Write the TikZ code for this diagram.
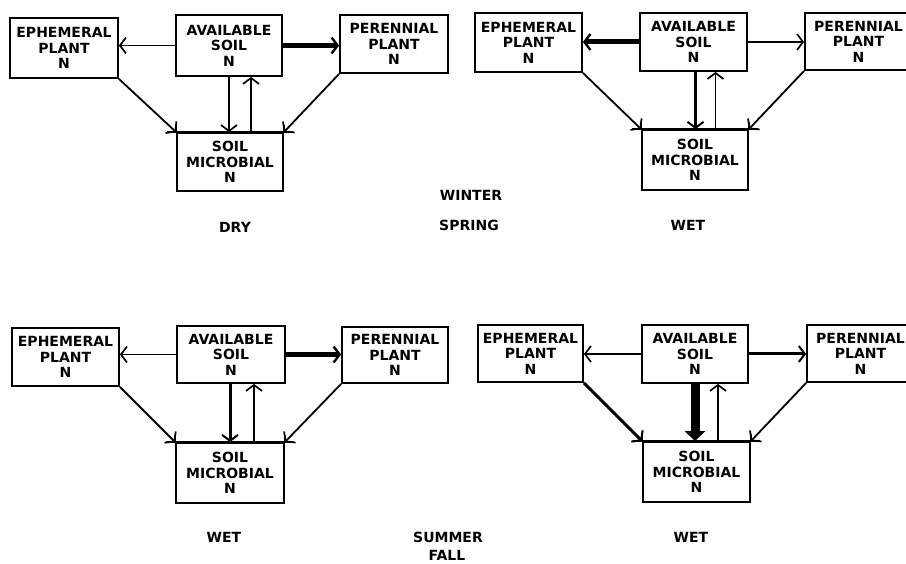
\documentclass[tikz,border=0pt]{standalone}
\usepackage{fontspec}
\setmainfont{DejaVu Sans}
\usetikzlibrary{arrows.meta,calc}
\newcommand\lbl{\fontsize{14}{15.5}\selectfont\bfseries}
\tikzset{
  box/.style={draw, line width=1.8pt, align=center, inner sep=0pt, font=\lbl},
  edge/.style={line width=1.8pt},
  thinar/.style={line width=1.8pt, -{Straight Barb[length=6pt,width=16pt,line width=1.7pt]}},
  medar/.style={line width=3pt, -{Straight Barb[length=6pt,width=16pt,line width=2pt]}},
  thickar/.style={line width=5pt, -{Straight Barb[length=6pt,width=16pt,line width=2.4pt]}},
  fatar/.style={line width=9pt, -{Triangle[length=10pt,width=20pt]}},
  lab/.style={font=\lbl, inner sep=0pt},
}
\begin{document}
\begin{tikzpicture}[x=1pt,y=-1pt]
\clip (0,0) rectangle (906,564);
\fill[white] (0,0) rectangle (906,564);

% ---------- top left (DRY) ----------
\node[box, minimum width=108pt, minimum height=60pt] (E1) at (64,48) {EPHEMERAL\\PLANT\\N};
\node[box, minimum width=106pt, minimum height=61pt] (A1) at (229,45.5) {AVAILABLE\\SOIL\\N};
\node[box, minimum width=108pt, minimum height=58pt] (P1) at (394,44) {PERENNIAL\\PLANT\\N};
\node[box, minimum width=106pt, minimum height=58pt] (M1) at (230,162) {SOIL\\MICROBIAL\\N};
\draw[edge] ([xshift=-9pt]M1.north west) -- ([xshift=9pt]M1.north east);
\draw[edge] (M1.north west) -- ++(0,-7);
\draw[edge] (M1.north east) -- ++(0,-7);
\draw[thinar] (A1.west) -- (A1.west -| E1.east);
\draw[thickar] (A1.east) -- (A1.east -| P1.west);
\draw[thinar] (A1.south) -- (A1.south |- M1.north);
\draw[thinar] ([xshift=22pt]A1.south |- M1.north) -- ([xshift=22pt]A1.south);
\draw[thinar] (E1.south east) -- (M1.north west);
\draw[thinar] (P1.south west) -- (M1.north east);
\node[lab] (dry) at (235,227) {DRY};

% ---------- top right (WET) ----------
\node[box, minimum width=107pt, minimum height=59pt] (E2) at (528.5,42.5) {EPHEMERAL\\PLANT\\N};
\node[box, minimum width=107pt, minimum height=58pt] (A2) at (693.5,42) {AVAILABLE\\SOIL\\N};
\node[box, minimum width=107pt, minimum height=57pt] (P2) at (858.5,41.5) {PERENNIAL\\PLANT\\N};
\node[box, minimum width=106pt, minimum height=60pt] (M2) at (695,160) {SOIL\\MICROBIAL\\N};
\draw[edge] ([xshift=-9pt]M2.north west) -- ([xshift=9pt]M2.north east);
\draw[edge] (M2.north west) -- ++(0,-7);
\draw[edge] (M2.north east) -- ++(0,-7);
\draw[thickar] (A2.west) -- (A2.west -| E2.east);
\draw[thinar] (A2.east) -- (A2.east -| P2.west);
\draw[medar] ([xshift=2pt]A2.south) -- ([xshift=2pt]A2.south |- M2.north);
\draw[thinar] ([xshift=22pt]A2.south |- M2.north) -- ([xshift=22pt]A2.south);
\draw[thinar] (E2.south east) -- (M2.north west);
\draw[thinar] (P2.south west) -- (M2.north east);
\node[lab] (wet1) at (688,225) {WET};

\node[lab] (winter) at (471,195) {WINTER};
\node[lab] (spring) at (469,225) {SPRING};

% ---------- bottom left (WET) ----------
\node[box, minimum width=107pt, minimum height=58pt] (E3) at (65.5,357) {EPHEMERAL\\PLANT\\N};
\node[box, minimum width=108pt, minimum height=57pt] (A3) at (231,354.5) {AVAILABLE\\SOIL\\N};
\node[box, minimum width=106pt, minimum height=56pt] (P3) at (395,355) {PERENNIAL\\PLANT\\N};
\node[box, minimum width=108pt, minimum height=60pt] (M3) at (230,473) {SOIL\\MICROBIAL\\N};
\draw[edge] ([xshift=-9pt]M3.north west) -- ([xshift=9pt]M3.north east);
\draw[edge] (M3.north west) -- ++(0,-7);
\draw[edge] (M3.north east) -- ++(0,-7);
\draw[thinar] (A3.west) -- (A3.west -| E3.east);
\draw[thickar] (A3.east) -- (A3.east -| P3.west);
\draw[medar] ([xshift=-1pt]A3.south) -- ([xshift=-1pt]A3.south |- M3.north);
\draw[thinar] ([xshift=23pt]A3.south |- M3.north) -- ([xshift=23pt]A3.south);
\draw[thinar] (E3.south east) -- (M3.north west);
\draw[thinar] (P3.south west) -- (M3.north east);
\node[lab] (wet2) at (224,537) {WET};

% ---------- bottom right (WET) ----------
\node[box, minimum width=105pt, minimum height=57pt] (E4) at (530.5,353.5) {EPHEMERAL\\PLANT\\N};
\node[box, minimum width=106pt, minimum height=58pt] (A4) at (695,354) {AVAILABLE\\SOIL\\N};
\node[box, minimum width=107pt, minimum height=57pt] (P4) at (860.5,353.5) {PERENNIAL\\PLANT\\N};
\node[box, minimum width=107pt, minimum height=60pt] (M4) at (696.5,472) {SOIL\\MICROBIAL\\N};
\draw[edge] ([xshift=-9pt]M4.north west) -- ([xshift=9pt]M4.north east);
\draw[edge] (M4.north west) -- ++(0,-7);
\draw[edge] (M4.north east) -- ++(0,-7);
\draw[thinar] (A4.west) -- (A4.west -| E4.east);
\draw[medar] (A4.east) -- (A4.east -| P4.west);
\draw[fatar] (A4.south) -- (A4.south |- M4.north);
\draw[thinar] ([xshift=23pt]A4.south |- M4.north) -- ([xshift=23pt]A4.south);
\draw[medar] (E4.south east) -- (M4.north west);
\draw[thinar] (P4.south west) -- (M4.north east);
\node[lab] (wet3) at (691,537) {WET};

\node[lab] (summer) at (448,537) {SUMMER};
\node[lab] (fall) at (447,555) {FALL};
\end{tikzpicture}
\end{document}
